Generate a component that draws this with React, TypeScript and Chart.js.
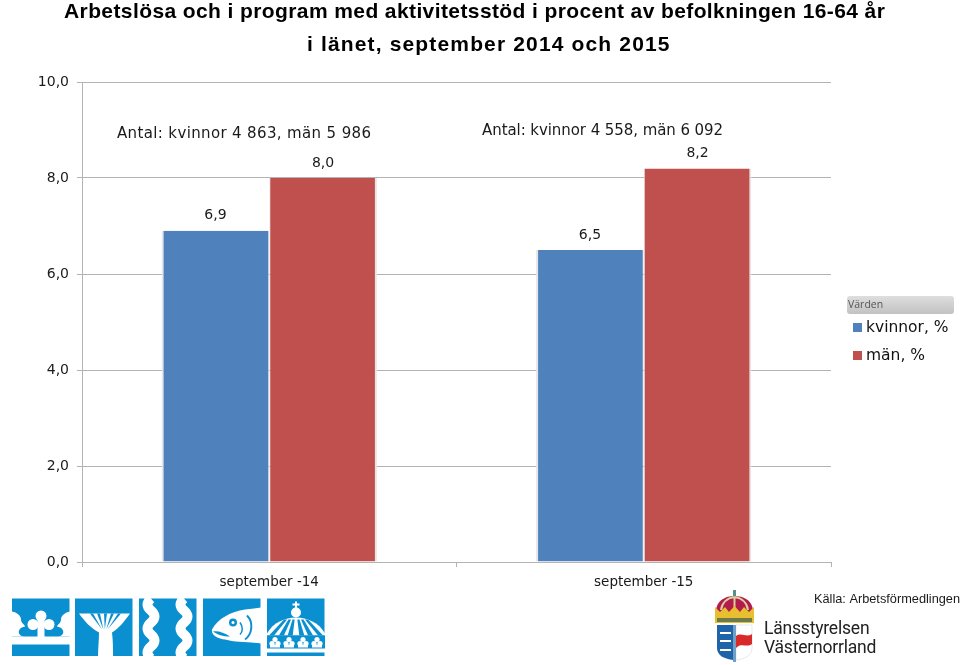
import React, { useEffect, useRef } from "react";
import { Chart, registerables } from "chart.js";

Chart.register(...registerables);

const categories = ["september -14", "september -15"];
const kvinnor = [6.9, 6.5];
const man = [8.0, 8.2];
const seriesNames = ["kvinnor, %", "män, %"];
const titleLines = [
  "Arbetslösa och i program med aktivitetsstöd i procent av befolkningen 16-64 år",
  "i länet, september 2014 och 2015",
];
const antalNotes = ["Antal: kvinnor 4 863, män 5 986", "Antal: kvinnor 4 558, män 6 092"];
const legendTitle = "Värden";
const sourceText = "Källa: Arbetsförmedlingen";
const BLUE = "#4f81bd";
const RED = "#c0504d";
const GRID = "#b3b3b3";
const LOGO = "#0a8fd0";
const fmt = (v: number) => v.toFixed(1).replace(".", ",");
const UI = '"DejaVu Sans", sans-serif';

const overlay = {
  id: "overlay",
  afterDatasetsDraw(chart: any) {
    const { ctx, scales } = chart;
    ctx.save();
    ctx.textBaseline = "middle";
    // value labels
    ctx.font = `14px ${UI}`;
    ctx.fillStyle = "#1a1a1a";
    ctx.textAlign = "center";
    chart.data.datasets.forEach((ds: any, i: number) => {
      const meta = chart.getDatasetMeta(i);
      ds.data.forEach((v: number, j: number) => {
        ctx.fillText(fmt(v), meta.data[j].x, scales.y.getPixelForValue(v) - 15);
      });
    });
    // notes
    ctx.textAlign = "left";
    ctx.font = `15px ${UI}`;
    ctx.letterSpacing = "0.36px";
    ctx.fillText(antalNotes[0], 117, 134);
    ctx.letterSpacing = "-0.07px";
    ctx.fillText(antalNotes[1], 482, 131);
    ctx.letterSpacing = "0px";
    // title
    ctx.fillStyle = "#000";
    ctx.font = 'bold 21px "Liberation Sans", sans-serif';
    ctx.letterSpacing = "0.4px";
    ctx.fillText(titleLines[0], 64, 12);
    ctx.letterSpacing = "1.15px";
    ctx.fillText(titleLines[1], 307, 45);
    ctx.letterSpacing = "0px";
    // legend
    const g = ctx.createLinearGradient(0, 296, 0, 314);
    g.addColorStop(0, "#dedede");
    g.addColorStop(1, "#c2c2c2");
    ctx.fillStyle = g;
    ctx.beginPath();
    ctx.roundRect(847, 296, 107, 18, 3);
    ctx.fill();
    ctx.fillStyle = "#555";
    ctx.font = '10.5px "Open Sans", sans-serif';
    ctx.fillText(legendTitle, 848, 305.5);
    ctx.font = `15.5px ${UI}`;
    [BLUE, RED].forEach((c, i) => {
      const y = i === 0 ? 328 : 356;
      ctx.fillStyle = c;
      ctx.fillRect(853, y - 5, 9, 9);
      ctx.fillStyle = "#111";
      ctx.fillText(seriesNames[i], 866, y);
    });
    // source
    ctx.fillStyle = "#1a1a1a";
    ctx.font = '12.75px "Liberation Sans", sans-serif';
    ctx.fillText(sourceText, 814, 599);
    // agency name
    ctx.fillStyle = "#222";
    ctx.font = '17.5px "Roboto", sans-serif';
    ctx.letterSpacing = "-0.2px";
    ctx.fillText("Länsstyrelsen", 764, 630);
    ctx.fillText("Västernorrland", 764, 649);
    ctx.letterSpacing = "0px";
    ctx.restore();
  },
};

function Logos() {
  const W = "#fff";
  return (
    <svg
      width={960}
      height={665}
      style={{ position: "absolute", left: 0, top: 0, pointerEvents: "none" }}
    >
      {/* crown */}
      <g transform="translate(12,598.5)">
        <rect width={57.5} height={57.5} fill={LOGO} />
        <rect y={38} width={58} height={8} fill={W} />
        <path d="M0 13C5 14 9 17 9 21C9 25 13 26 13 28C8 29 6 32 7 35C8 37 10 38 12 38H0Z" fill={W} />
        <path d="M58 13C53 14 49 17 49 21C49 25 45 26 45 28C50 29 52 32 51 35C50 37 48 38 46 38H58Z" fill={W} />
        <circle cx={29} cy={17.5} r={5.5} fill={W} />
        <circle cx={21} cy={26} r={5.5} fill={W} />
        <circle cx={37} cy={26} r={5.5} fill={W} />
        <rect x={25.5} y={17} width={7} height={22} fill={W} />
      </g>
      {/* fan */}
      <g transform="translate(75,598.5)">
        <rect width={57.5} height={57.5} fill={LOGO} />
        <path d="M4 15H55C50 22 44 30 37 34C38 42 38 50 38 58H23C23 50 24 42 24 34C16 30 9 22 4 15Z" fill={W} />
        {[14, 21, 28, 35, 42].map((x, i) => (
          <path key={i} d={`M${x + 1} 15L${x + 4} 15L${27 + i * 1.4} 31Z`} fill={LOGO} />
        ))}
      </g>
      {/* waves */}
      <g transform="translate(139,598.5)">
        <rect width={57.5} height={57.5} fill={LOGO} />
        {[12, 45].map((x) => (
          <path
            key={x}
            d={`M${x} 0Q${x - 7} 6 ${x} 12T${x} 24T${x} 36T${x} 48T${x} 60`}
            fill="none"
            stroke={W}
            strokeWidth={10}
          />
        ))}
      </g>
      {/* fish */}
      <g transform="translate(203,598.5)">
        <rect width={57.5} height={57.5} fill={LOGO} />
        <path d="M58 9L42 11C28 13 15 20 9 31C8 37 15 40 22 41C32 44 44 43 58 45Z" fill={W} />
        <circle cx={30} cy={24} r={4} fill={LOGO} />
        <circle cx={30} cy={24} r={1.5} fill={W} />
        <path d="M10 33C15 32 21 34 27 38C20 38 14 36 10 33Z" fill={LOGO} />
        <path d="M44 17C51 24 49 36 42 41" fill="none" stroke={LOGO} strokeWidth={2} />
        <path d="M37 24C40 28 40 33 37 36" fill="none" stroke={LOGO} strokeWidth={1.5} />
      </g>
      {/* dome */}
      <g transform="translate(267,598.5)">
        <rect width={57.5} height={57.5} fill={LOGO} />
        <circle cx={29} cy={14} r={5} fill={W} />
        <rect x={28} y={3} width={2} height={7} fill={W} />
        <rect x={25.5} y={5} width={7} height={2} fill={W} />
        <path d="M0 35C6 24 18 19 29 19C40 19 52 24 58 35V37H0Z" fill={W} />
        {[-20, -11, -3, 3, 11, 20].map((d) => (
          <path key={d} d={`M${29 + d * 0.45} 21L${29 + d * 1.1} 37H${29 + d * 1.1 + (d > 0 ? 5 : -5)}L${29 + d * 0.5 + (d > 0 ? 2 : -2)} 21Z`} fill={LOGO} />
        ))}
        <rect y={37} width={58} height={16} fill={LOGO} />
        {[4, 18, 32, 46].map((x) => (
          <g key={x} fill={W}>
            <circle cx={x + 4} cy={41} r={2.6} />
            <circle cx={x + 1} cy={45} r={2.6} />
            <circle cx={x + 7} cy={45} r={2.6} />
            <rect x={x - 1} y={46} width={10} height={3} />
          </g>
        ))}
        <rect y={50} width={58} height={4} fill={W} />
      </g>
      {/* crest */}
      <g transform="translate(714,590)">
        <rect x={19} y={0} width={3} height={6} fill="#5b8f8f" />
        <path d="M2 22C2 10 12 6 20.5 6C29 6 39 10 39 22Z" fill="#b31b4b" />
        <path d="M7 20C8 13 13 8 20.5 7M34 20C33 13 28 8 20.5 7M20.5 7V20" fill="none" stroke="#d8cfa0" strokeWidth={2} />
        <path d="M1 17L6 22L11 17L15 22L20.5 16L26 22L30 17L35 22L40 17V33H1Z" fill="#e8bf2e" />
        <rect x={3} y={28} width={35} height={4} fill="#6e7a4a" />
        <path d="M3 35H19V70C11 69 3 66 3 58Z" fill="#1f63a8" />
        <path d="M22 35H38V58C38 66 30 69 22 70Z" fill="#fff" stroke="#c8d4e0" strokeWidth={0.5} />
        <path d="M22 46C27 42 33 48 38 44V54C33 58 27 52 22 58Z" fill="#d92a2a" />
        {[42, 50, 59].map((y) => (
          <rect key={y} x={6} y={y} width={11} height={2} fill="#fff" />
        ))}
        <rect x={19} y={35} width={3} height={37} fill="#6ea0c8" />
      </g>
    </svg>
  );
}

export default function App() {
  const ref = useRef<HTMLCanvasElement>(null);
  useEffect(() => {
    document.body.style.margin = "0";
    const chart = new Chart(ref.current!, {
      type: "bar",
      data: {
        labels: categories,
        datasets: [
          { label: seriesNames[0], data: kvinnor, backgroundColor: BLUE, borderColor: "#e6e6e6", borderWidth: { left: 2, right: 1, top: 0, bottom: 0 } as any, categoryPercentage: 0.575, barPercentage: 1 },
          { label: seriesNames[1], data: man, backgroundColor: RED, borderColor: "#e6e6e6", borderWidth: { left: 1, right: 2, top: 0, bottom: 0 } as any, categoryPercentage: 0.575, barPercentage: 1 },
        ],
      },
      options: {
        responsive: false,
        animation: false,
        layout: { padding: { top: 82, right: 129, left: 0, bottom: 0 } },
        plugins: { legend: { display: false }, title: { display: false }, tooltip: { enabled: false } },
        scales: {
          x: {
            afterFit: (s: any) => { s.height = 103; },
            grid: { drawOnChartArea: false, color: GRID, tickLength: 5 },
            border: { color: GRID },
            ticks: { color: "#1a1a1a", font: { family: "DejaVu Sans", size: 13.5 }, padding: 7, maxRotation: 0 },
          },
          y: {
            min: 0,
            max: 10,
            afterFit: (s: any) => { s.width = 82; },
            grid: { color: GRID, tickLength: 5 },
            border: { color: GRID },
            ticks: { stepSize: 2, color: "#1a1a1a", padding: 8, font: { family: "DejaVu Sans", size: 14 }, callback: (v: any) => fmt(Number(v)) },
          },
        },
      },
      plugins: [overlay],
    } as any);
    return () => chart.destroy();
  }, []);
  return (
    <div style={{ position: "relative", width: 960, height: 665, overflow: "hidden" }}>
      <canvas ref={ref} width={960} height={665} style={{ display: "block" }} />
      <Logos />
    </div>
  );
}
